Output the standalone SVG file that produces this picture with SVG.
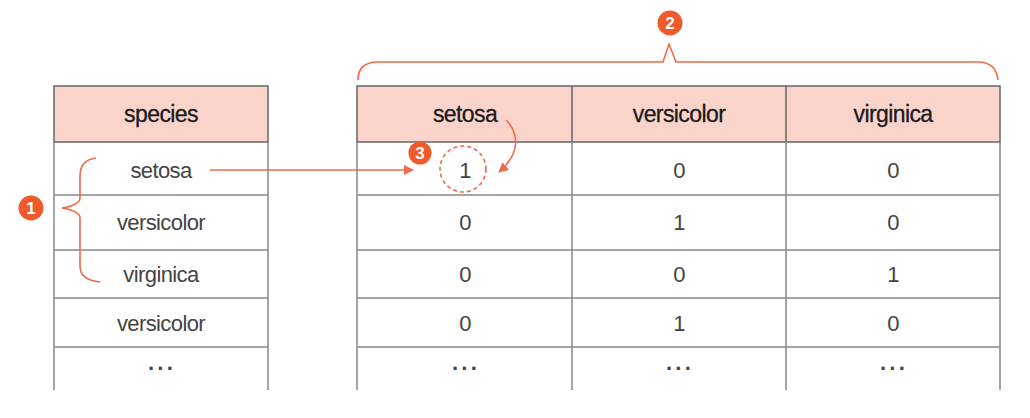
<svg xmlns="http://www.w3.org/2000/svg" width="1030" height="418" viewBox="0 0 1030 418">
<style>
.hdr{fill:#fad4cb;stroke:#666;stroke-width:1.5}
.ln{stroke:#888;stroke-width:1.5;fill:none}
.ht{font-family:"Liberation Sans",Arial,sans-serif;font-size:23px;fill:#1a1a1a;text-anchor:middle;letter-spacing:-0.6px;stroke:#1a1a1a;stroke-width:0.3px}
.ct{font-family:"Liberation Sans",Arial,sans-serif;font-size:22px;fill:#444;text-anchor:middle;letter-spacing:-0.6px}
.dt{font-family:"Liberation Sans",Arial,sans-serif;font-size:22px;font-weight:bold;fill:#444;text-anchor:middle;letter-spacing:2px}
.or{stroke:#f06a4a;stroke-width:1.6;fill:none}
.badge{fill:#ee5a2c}
.bt{font-family:"Liberation Sans",Arial,sans-serif;font-size:17px;font-weight:bold;fill:#fff;text-anchor:middle}
</style>
<defs>
<marker id="ah" viewBox="0 0 10 10" refX="9" refY="5" markerWidth="10" markerHeight="10" markerUnits="userSpaceOnUse" orient="auto">
<path d="M0,0 L10,5 L0,10 Z" fill="#f06a4a"/>
</marker>
</defs>
<rect width="1030" height="418" fill="#fff"/>
<g id="left-table">
<rect class="hdr" x="54" y="86" width="214" height="56"/>
<text class="ht" x="161" y="122">species</text>
<path class="ln" d="M54,142 V390 M268,142 V390 M54,195 H268 M54,250 H268 M54,298 H268 M54,347 H268"/>
<text class="ct" x="161" y="178">setosa</text>
<text class="ct" x="161" y="230">versicolor</text>
<text class="ct" x="161" y="282">virginica</text>
<text class="ct" x="161" y="331">versicolor</text>
<text class="dt" x="162" y="376">···</text>
</g>
<g id="right-table">
<rect class="hdr" x="357" y="86" width="643" height="56"/>
<path d="M572,86 V142 M786,86 V142" stroke="#666" stroke-width="1.5"/>
<text class="ht" x="465" y="122">setosa</text>
<text class="ht" x="679" y="122">versicolor</text>
<text class="ht" x="893" y="122">virginica</text>
<path class="ln" d="M357,142 V390 M1000,142 V390 M572,142 V390 M786,142 V390 M357,195 H1000 M357,250 H1000 M357,298 H1000 M357,347 H1000"/>
<text class="ct" x="465" y="178">1</text>
<text class="ct" x="679" y="178">0</text>
<text class="ct" x="893" y="178">0</text>
<text class="ct" x="465" y="230">0</text>
<text class="ct" x="679" y="230">1</text>
<text class="ct" x="893" y="230">0</text>
<text class="ct" x="465" y="282">0</text>
<text class="ct" x="679" y="282">0</text>
<text class="ct" x="893" y="282">1</text>
<text class="ct" x="465" y="331">0</text>
<text class="ct" x="679" y="331">1</text>
<text class="ct" x="893" y="331">0</text>
<text class="dt" x="466" y="376">···</text>
<text class="dt" x="680" y="376">···</text>
<text class="dt" x="894" y="376">···</text>
</g>
<g id="connectors">
<path class="or" d="M96,158 Q80,160 80,176 V198 Q80,205 62,208 Q80,211 80,218 V266 Q80,280 100,282"/>
<path class="or" d="M358,80 Q358,62 378,62 H663 L669,44 L676,62 H978 Q996,62 998,80"/>
<path class="or" d="M210,170 H413" marker-end="url(#ah)"/>
<path class="or" d="M506,120 C518,132 522,152 499,172" marker-end="url(#ah)"/>
<circle cx="463" cy="169" r="23" fill="none" stroke="#f06a4a" stroke-width="1.6" stroke-dasharray="4,3"/>
</g>
<g id="badge1"><circle class="badge" cx="31" cy="208" r="12.5"/><text class="bt" x="31" y="214">1</text></g>
<g id="badge2"><circle class="badge" cx="670" cy="23" r="12.5"/><text class="bt" x="670" y="29">2</text></g>
<g id="badge3"><circle class="badge" cx="420" cy="153" r="11.5"/><text class="bt" x="420" y="159">3</text></g>
</svg>
